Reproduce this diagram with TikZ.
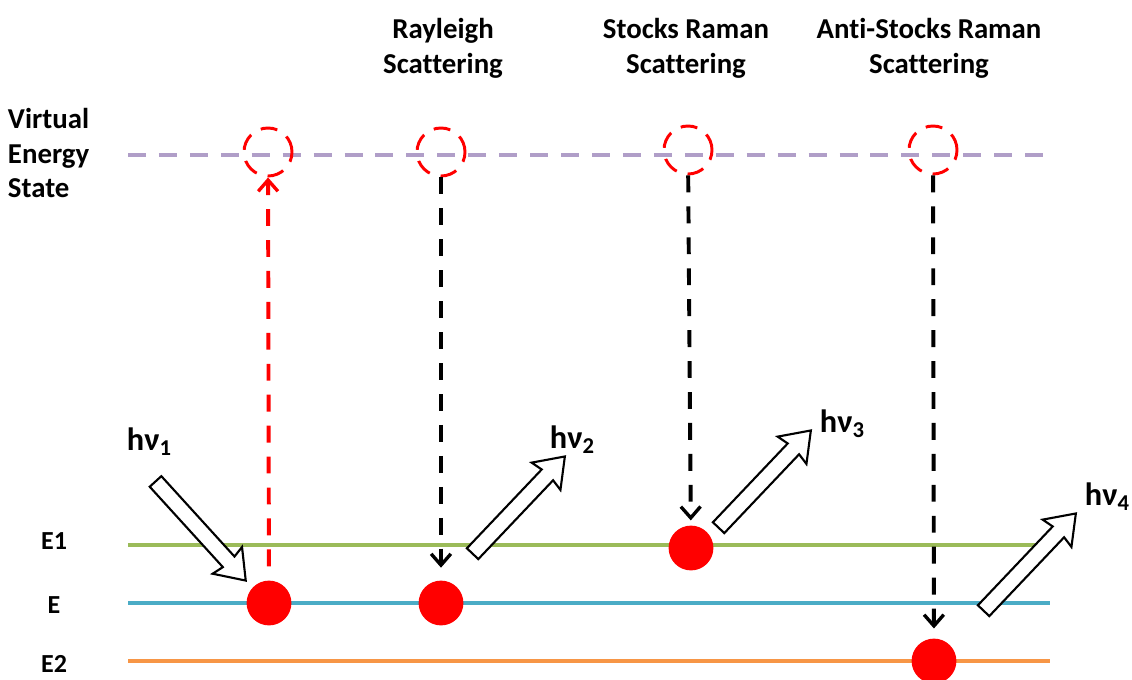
\documentclass[tikz,border=0pt]{standalone}
\usepackage{fontspec}
\setmainfont{Carlito}[Ligatures=NoCommon]
\usetikzlibrary{arrows.meta, shapes.arrows, positioning, calc}
\definecolor{virtlilac}{RGB}{176,158,200}
\definecolor{levelgreen}{RGB}{155,187,89}
\definecolor{levelblue}{RGB}{75,172,198}
\definecolor{levelorange}{RGB}{247,150,70}
\definecolor{dotred}{RGB}{255,0,0}

\begin{document}
\begin{tikzpicture}[
  x=0.025cm, y=-0.025cm,
  every node/.style={font=\bfseries\fontsize{20.5}{24.8}\selectfont},
  levelline/.style={line width=2.8pt},
  virtline/.style={virtlilac, line width=3.4pt, dash pattern=on 12.8pt off 9.2pt},
  virtstate/.style={circle, draw=dotred, line width=2.1pt, dash pattern=on 12pt off 8pt, minimum size=1.2cm, inner sep=0},
  electron/.style={circle, fill=dotred, minimum size=1.12cm, inner sep=0},
  jump/.style={line width=2.8pt, dash pattern=on 12pt off 10pt, -{Straight Barb[length=8pt, width=14pt, line width=2.4pt]}},
  photon/.style={single arrow, draw=black, fill=white, line width=1.5pt, inner sep=0.17cm,
    minimum height=3.35cm, single arrow head extend=0.3cm, single arrow tip angle=72, single arrow head indent=0.05cm},
  photonlabel/.style={anchor=base west, font=\bfseries\fontsize{23}{27}\selectfont},
  levellabel/.style={font=\bfseries\fontsize{18.5}{22}\selectfont},
]
\useasboundingbox (0,0) rectangle (1132,679);

%% Energy levels
\draw[virtline] (128,155) -- (1050,155);
\draw[levelline, levelgreen]  (128,545) -- (1050,545);
\draw[levelline, levelblue]   (128,603) -- (1050,603);
\draw[levelline, levelorange] (128,661) -- (1050,661);

%% Level labels
\node[anchor=west, align=left] (virt) at (3,153) {Virtual\\Energy\\State};
\node[levellabel] (le1) at (54,541) {E1};
\node[levellabel] (le)  at (54,605) {E};
\node[levellabel] (le2) at (54,664) {E2};

%% Process titles
\node[align=center] (ray)  at (443,48) {Rayleigh\\Scattering};
\node[align=center] (stk)  at (686,48) {Stocks Raman\\Scattering};
\node[align=center] (astk) at (929,48) {Anti-Stocks Raman\\Scattering};

%% Virtual states
\node[virtstate] (v1) at (268,152) {};
\node[virtstate] (v2) at (441,152) {};
\node[virtstate] (v3) at (688,150) {};
\node[virtstate] (v4) at (933,150) {};

%% Electrons
\node[electron] (d1) at (269,603) {};
\node[electron] (d2) at (441,603) {};
\node[electron] (d3) at (691,548) {};
\node[electron] (d4) at (934,661) {};

%% Transitions
\draw[jump, dotred, shorten <=10pt] (d1) -- (v1);
\draw[jump, shorten >=9pt] (v2) -- (d2);
\draw[jump, shorten >=3.5pt] (v3) -- (d3);
\draw[jump, shorten >=7pt] (v4) -- (d4);

%% Photons
\node[photon, rotate=-47.7] (p1) at (197,527) {};
\node[photon, rotate=46.5]  (p2) at (515,509) {};
\node[photon, rotate=46.5]  (p3) at (761,483) {};
\node[photon, rotate=46.5]  (p4) at (1026,566) {};

\node[photonlabel] (h1) at (122,450)  {hν\textsubscript{1}};
\node[photonlabel] (h2) at (545,448)  {hν\textsubscript{2}};
\node[photonlabel] (h3) at (815,432)  {hν\textsubscript{3}};
\node[photonlabel] (h4) at (1080,505) {hν\textsubscript{4}};

\end{tikzpicture}
\end{document}
